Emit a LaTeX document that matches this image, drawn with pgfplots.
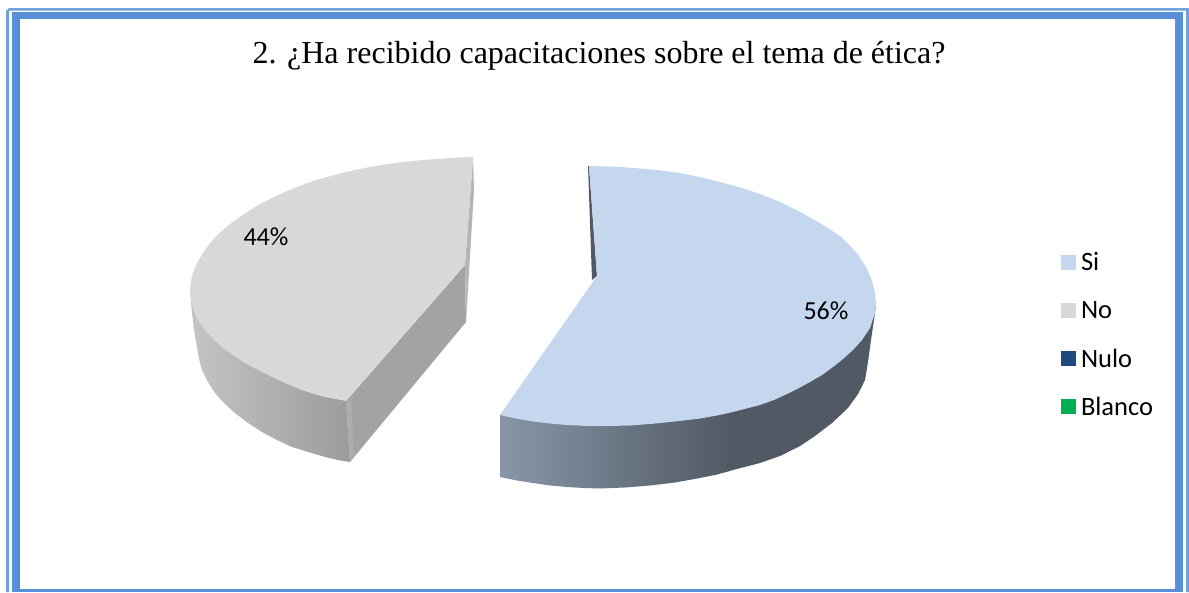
\documentclass[border=0pt]{standalone}
\usepackage{fontspec}
\setmainfont{Liberation Serif}
\newfontfamily\calibri{Carlito}
\usepackage{pgfplots}
\pgfplotsset{compat=1.18}
\definecolor{frameblue}{HTML}{588FD8}
\definecolor{cSi}{HTML}{C5D7EF}
\definecolor{cNo}{HTML}{D8D8D8}
\definecolor{cNulo}{HTML}{1F497D}
\definecolor{cBlanco}{HTML}{00B050}
\begin{document}
\begin{tikzpicture}
\begin{axis}[
  at={(0pt,0pt)}, anchor=south west,
  width=1189pt, height=592pt, scale only axis,
  xmin=0, xmax=1189, ymin=0, ymax=592, y dir=reverse,
  hide axis, clip=false,
  legend image code/.code={\fill[#1, draw=none] (0pt,-7.5pt) rectangle (15pt,7.5pt); \path[draw=none, fill=none] (0pt,0pt) -- (20pt,0pt);},
  legend style={draw=none, fill=none, at={(axis cs:1061,253.5)}, anchor=north west,
    font=\calibri\fontsize{26.5}{26.5}\selectfont, inner sep=0pt, outer sep=0pt, row sep=31.3pt,
    nodes={inner sep=0pt, text height=17pt, text depth=0pt, anchor=west},
    cells={anchor=west}},
]
% background and frame
\addplot[fill=white, draw=none, forget plot] coordinates {(0,0)(1189,0)(1189,592)(0,592)};
\addplot[fill=frameblue, draw=none, forget plot] coordinates {(12,592)(12,12)(1183,12)(1183,592)};
\addplot[fill=white, draw=none, forget plot] coordinates {(20,589)(20,19)(1175,19)(1175,589)};
\addplot[fill=frameblue!85, draw=none, forget plot] coordinates {(6,592)(6,11)(9,8)(1189,8)(1189,592)(1186,592)(1186,10.5)(9,10.5)(9,592)};
% grey slice
\addplot[draw=none, left color=black!23, right color=black!39, forget plot] coordinates {
 (190,290)(192,313)(194,330)(197,347)(199,359)(202,370)(208,382)(215,393)(224,403)(235,413)(248,423)(262,432)(277,440)(292,447)(308,452)(325,457)(338,460)(350,462)(346,401)};
\addplot[fill=black!36, draw=none, forget plot] coordinates {(346,401)(465,265)(466,322)(350,462)};
\addplot[fill=black!32, draw=none, forget plot] coordinates {(346,401)(350,462)(354,457)(351,395)};
\addplot[fill=black!29, draw=none, forget plot] coordinates {(473,157)(474,190)(466,322)(465,265)};
\addplot[fill=cNo, draw=none, forget plot] coordinates {
 (473,157)(455,157.7)(437,159)(420,160.3)(403,162)(386,164.3)(370,167)(355,170)(340,173.5)(318,179.5)(302,185)(285,192)(268,200)(255,207)(242,215.5)(230,224)(219,233.5)(210,243)(203,253)(197,263)(193,273)(190.7,282)(190,290)(191,300)(193.5,310)(198,320)(205,330)(213,339)(222,347)(233,355)(245,363)(258,370)(272,377)(287,384)(302,390)(314,394)(325,397)(336,399)(346,401)(465,265)};
% blue slice
\addplot[draw=none, left color={rgb,255:red,135;green,150;blue,168}, right color={rgb,255:red,81;green,89;blue,100}, forget plot] coordinates {
 (500,415)(500,477)(517,480.5)(533,483)(550,485.5)(567,487)(584,488)(600,488.5)(625,487.5)(650,485.5)(675,482.5)(700,478)(717,474.5)(730,471)(730,395)};
\addplot[fill={rgb,255:red,81;green,89;blue,100}, draw=none, forget plot] coordinates {
 (729.5,395)(729.5,471)(733,470)(760,463)(780,456)(800,446)(815,436)(832,423)(848,408)(858,394)(865,380)(868,362)(871,340)(875,313)(876,303)};
\addplot[fill={rgb,255:red,81;green,89;blue,100}, draw=none, forget plot] coordinates {(588,166)(592,280)(597,276)(589,166)};
\addplot[fill=cSi, draw=none, forget plot] coordinates {
 (589,166)(600,166.3)(620,167)(640,168.5)(660,170.3)(680,173)(700,177)(720,182)(740,187.5)(760,194)(780,202)(800,212)(820,223)(840,236)(850,245.5)(859,256)(866,267)(871,278)(874.5,290)(876,303)(875,313)(870,328)(862,340)(853,350)(843,359)(833,367)(822,375)(810,382)(799,388)(787,394)(774,400)(760,405)(733,412)(717,415.5)(700,418.5)(675,421.5)(650,424)(630,425.5)(610,426)(588,426)(567,425)(550,423.5)(533,421.5)(516,418.5)(500,415)(597,276)};
% legend
\addlegendimage{fill=cSi}\addlegendentry{Si}
\addlegendimage{fill=cNo}\addlegendentry{No}
\addlegendimage{fill=cNulo}\addlegendentry{Nulo}
\addlegendimage{fill=cBlanco}\addlegendentry{Blanco}
% texts
\node[font=\fontsize{32}{32}\selectfont] at (axis cs:599,56) {2. ¿Ha recibido capacitaciones sobre el tema de ética?};
\node[font=\calibri\fontsize{26}{26}\selectfont] at (axis cs:266,236.5) {44\%};
\node[font=\calibri\fontsize{26}{26}\selectfont] at (axis cs:826,310.5) {56\%};
\end{axis}
\end{tikzpicture}
\end{document}
